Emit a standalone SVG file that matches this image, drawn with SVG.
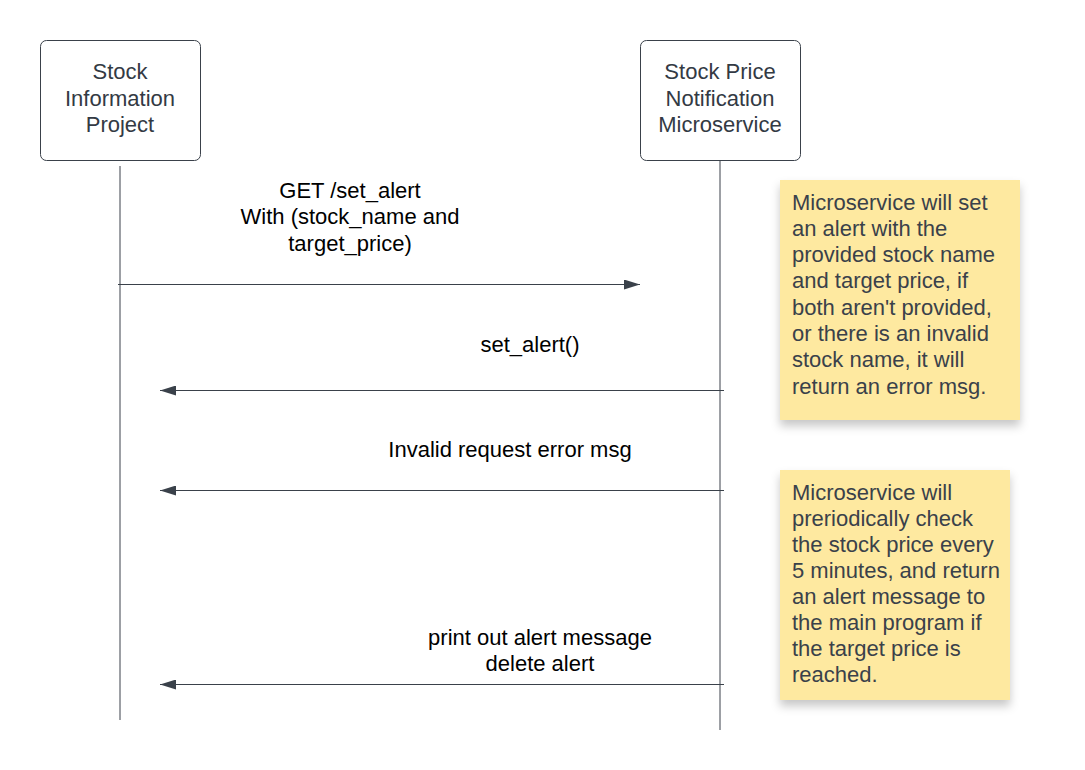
<svg xmlns="http://www.w3.org/2000/svg" width="1085" height="770" viewBox="0 0 1085 770">
<defs>
<style>
.actor{fill:#ffffff;stroke:#3a414a;stroke-width:1}
.atext{font-family:"Liberation Sans",Arial,sans-serif;font-size:22px;fill:#333a44;text-anchor:middle}
.life{stroke:#3a414a;stroke-width:1;fill:none}
.msg{stroke:#3a414a;stroke-width:1;fill:none;marker-end:url(#ah)}
.ltext{font-family:"Liberation Sans",Arial,sans-serif;font-size:22px;fill:#000000;text-anchor:middle}
.note{fill:#fee9a0}
.ntext{font-family:"Liberation Sans",Arial,sans-serif;font-size:22px;fill:#3a414a}
</style>
<marker id="ah" viewBox="0 0 16 10" refX="16" refY="5" markerWidth="16" markerHeight="10" markerUnits="userSpaceOnUse" orient="auto">
<path d="M0,0 L16,5 L0,10 Z" fill="#3a414a"/>
</marker>
<filter id="sh" x="-20%" y="-20%" width="150%" height="150%">
<feDropShadow dx="0" dy="6" stdDeviation="5" flood-color="#000" flood-opacity="0.22"/>
</filter>
</defs>
<rect width="1085" height="770" fill="#ffffff"/>
<g id="lifelines">
<line class="life" x1="120" y1="166" x2="120" y2="720"/>
<line class="life" x1="720" y1="160" x2="720" y2="730"/>
</g>
<g id="actor-stock-information-project">
<rect class="actor" x="40.5" y="40.5" width="160" height="120" rx="6"/>
<text class="atext" x="120" y="79">Stock</text>
<text class="atext" x="120" y="105.5">Information</text>
<text class="atext" x="120" y="132">Project</text>
</g>
<g id="actor-stock-price-notification">
<rect class="actor" x="640.5" y="40.5" width="160" height="120" rx="6"/>
<text class="atext" x="720" y="79">Stock Price</text>
<text class="atext" x="720" y="105.5">Notification</text>
<text class="atext" x="720" y="132">Microservice</text>
</g>
<g id="connectors">
<line class="msg" x1="118" y1="284.5" x2="640" y2="284.5"/>
<line class="msg" x1="724" y1="390.5" x2="160" y2="390.5"/>
<line class="msg" x1="724" y1="490.5" x2="160" y2="490.5"/>
<line class="msg" x1="724" y1="684.5" x2="160" y2="684.5"/>
</g>
<g id="labels">
<text class="ltext" x="350" y="197.5">GET /set_alert</text>
<text class="ltext" x="350" y="224">With (stock_name and</text>
<text class="ltext" x="350" y="250.5">target_price)</text>
<text class="ltext" x="530" y="352">set_alert()</text>
<text class="ltext" x="510" y="457">Invalid request error msg</text>
<text class="ltext" x="540" y="645">print out alert message</text>
<text class="ltext" x="540" y="671">delete alert</text>
</g>
<g id="note-1">
<rect class="note" x="780" y="180" width="240" height="240" filter="url(#sh)"/>
<text class="ntext" x="792" y="209.5">Microservice will set</text>
<text class="ntext" x="792" y="235.8">an alert with the</text>
<text class="ntext" x="792" y="262.1">provided stock name</text>
<text class="ntext" x="792" y="288.4">and target price, if</text>
<text class="ntext" x="792" y="314.7">both aren't provided,</text>
<text class="ntext" x="792" y="341">or there is an invalid</text>
<text class="ntext" x="792" y="367.3">stock name, it will</text>
<text class="ntext" x="792" y="393.6">return an error msg.</text>
</g>
<g id="note-2">
<rect class="note" x="780" y="470" width="230" height="230" filter="url(#sh)"/>
<text class="ntext" x="792" y="499.5">Microservice will</text>
<text class="ntext" x="792" y="525.5">preriodically check</text>
<text class="ntext" x="792" y="551.5">the stock price every</text>
<text class="ntext" x="792" y="577.5">5 minutes, and return</text>
<text class="ntext" x="792" y="603.5">an alert message to</text>
<text class="ntext" x="792" y="629.5">the main program if</text>
<text class="ntext" x="792" y="655.5">the target price is</text>
<text class="ntext" x="792" y="681.5">reached.</text>
</g>
</svg>
